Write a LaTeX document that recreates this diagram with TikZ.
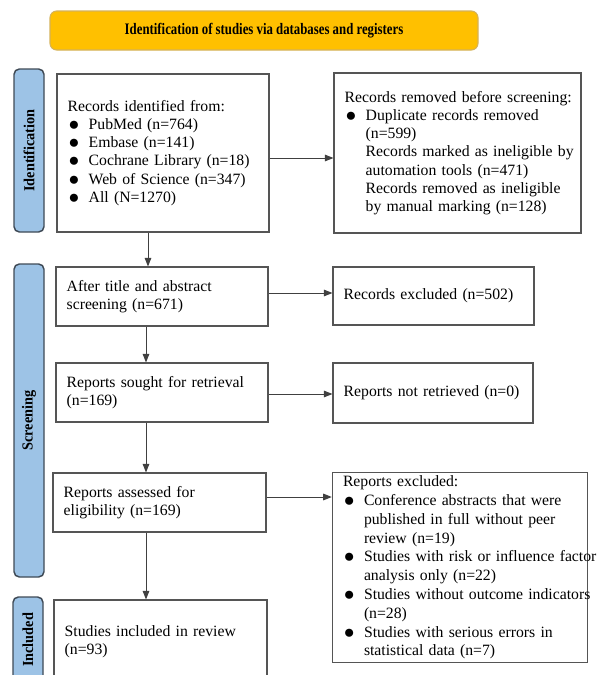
\documentclass[tikz,border=0pt]{standalone}
\usepackage{fontspec}
\setmainfont{Liberation Serif}
\newfontfamily\titlefont[FakeStretch=0.8]{Liberation Serif}
\newfontfamily\labfont[FakeStretch=0.93]{Liberation Serif}
\usetikzlibrary{arrows.meta}
\definecolor{ttlfill}{HTML}{FFC000}
\definecolor{ttldraw}{HTML}{D4B25A}
\definecolor{labfill}{HTML}{9DC3E6}
\definecolor{labdraw}{HTML}{3F4A56}
\definecolor{boxdraw}{HTML}{555555}
\definecolor{arrdraw}{HTML}{404040}
\newcommand\bigbul{\raisebox{-0.7pt}{\fontsize{14pt}{14pt}\selectfont ●}}
\newcommand\bitem[1]{\par\hangindent=15.75pt\hangafter=1\noindent\makebox[15.75pt][l]{\hspace{0.5pt}\bigbul}#1}
\newcommand\nitem[1]{\par\hangindent=15.75pt\hangafter=0\noindent #1}
\begin{document}
\begin{tikzpicture}[x=0.75pt,y=-0.75pt,
  box/.style={draw=boxdraw, line width=0.8pt, fill=white, inner xsep=8pt, inner ysep=0pt, align=left, font=\fontsize{11.8pt}{13.7pt}\selectfont},
  lab/.style={draw=labdraw, fill=labfill, line width=1.1pt, rounded corners=4pt, rotate=90, inner sep=0pt, font=\labfont\bfseries\fontsize{11.5pt}{13pt}\selectfont},
  ttl/.style={draw=ttldraw, fill=ttlfill, line width=0.8pt, rounded corners=5pt, inner sep=0pt, font=\titlefont\bfseries\fontsize{12pt}{14pt}\selectfont},
  arr/.style={draw=arrdraw, line width=0.75pt, -{Triangle[length=6.5pt,width=5pt]}}]
\useasboundingbox (0,0) rectangle (598,675);
\clip (0,0) rectangle (598,675);

\node[ttl, minimum width=321pt, minimum height=29.25pt] (T) at (264,30.5) {Identification of studies via databases and registers};

\node[lab, minimum width=122.25pt, minimum height=22.5pt] (L1) at (29,150.5) {Identification};
\node[lab, minimum width=234.75pt, minimum height=22.5pt] (L2) at (29,420.5) {Screening};
\node[lab, minimum width=64.5pt, minimum height=22.5pt] (L3) at (28,640) {Included};

\node[box, text width=143pt, minimum height=118.5pt] (B1) at (163,153) {%
\noindent\mbox{Records identified from:}
\bitem{\mbox{PubMed (n=764)}}
\bitem{\mbox{Embase (n=141)}}
\bitem{\mbox{Cochrane Library (n=18)}}
\bitem{\mbox{Web of Science (n=347)}}
\bitem{\mbox{All (N=1270)}}\par};

\node[box, text width=169.25pt, minimum height=120pt] (B2) at (457.5,153) {%
\noindent\mbox{Records removed before screening:}
\bitem{\mbox{Duplicate records removed}\newline\mbox{(n=599)}}
\nitem{\mbox{Records marked as ineligible by}\newline\mbox{automation tools (n=471)}}
\nitem{\mbox{Records removed as ineligible}\newline\mbox{by manual marking (n=128)}}\par};

\node[box, text width=143pt, minimum height=44.25pt] (B3) at (162,296.5) {%
\noindent\mbox{After title and abstract}\newline\mbox{screening (n=671)}};
\node[box, text width=143pt, minimum height=44.25pt] (B4) at (162,392.5) {%
\noindent\mbox{Reports sought for retrieval}\newline\mbox{(n=169)}};
\node[box, text width=134.75pt, minimum height=43.5pt] (B5) at (433.5,296) {%
\noindent\mbox{Records excluded (n=502)}};
\node[box, text width=134pt, minimum height=45pt] (B6) at (433,393) {%
\noindent\mbox{Reports not retrieved (n=0)}};
\node[box, text width=143.75pt, minimum height=44.25pt] (B7) at (159.5,502.5) {%
\noindent\mbox{Reports assessed for}\newline\mbox{eligibility (n=169)}};
\node[box, text width=143.75pt, minimum height=63pt] (B8) at (160.5,642) {%
\noindent\mbox{Studies included in review}\newline\mbox{(n=93)}};

\node[box, text width=175.5pt, minimum height=142.5pt, font=\fontsize{11.8pt}{14.1pt}\selectfont] (B9) at (460,567.5) {%
\noindent\mbox{Reports excluded:}
\bitem{\mbox{Conference abstracts that were}\newline\mbox{published in full without peer}\newline\mbox{review (n=19)}}
\bitem{\mbox{Studies with risk or influence factor}\newline\mbox{analysis only (n=22)}}
\bitem{\mbox{Studies without outcome indicators}\newline\mbox{(n=28)}}
\bitem{\mbox{Studies with serious errors in}\newline\mbox{statistical data (n=7)}}\par};

\coordinate (ax1) at (148,0);
\coordinate (ax2) at (146,0);
\coordinate (ay1) at (0,158);
\coordinate (ay2) at (0,293);
\coordinate (ay3) at (0,394);
\coordinate (ay4) at (0,497);

\draw[arr] (B1.south -| ax1) -- (B3.north -| ax1);
\draw[arr] (B3.south -| ax2) -- (B4.north -| ax2);
\draw[arr] (B4.south -| ax2) -- (B7.north -| ax2);
\draw[arr] (B7.south -| ax2) -- (B8.north -| ax2);

\draw[arr] (B1.east |- ay1) -- (B2.west |- ay1);
\draw[arr] (B3.east |- ay2) -- (B5.west |- ay2);
\draw[arr] (B4.east |- ay3) -- (B6.west |- ay3);
\draw[arr] (B7.east |- ay4) -- (B9.west |- ay4);
\end{tikzpicture}
\end{document}
